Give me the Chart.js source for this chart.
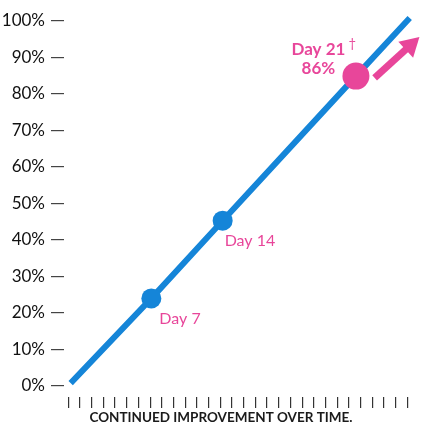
<!DOCTYPE html>
<html>
<head>
<meta charset="utf-8">
<script src="https://cdn.jsdelivr.net/npm/chart.js@4"></script>
<style>
  html, body { margin: 0; padding: 0; background: #fff; }
  #wrap { width: 426px; height: 426px; }
</style>
</head>
<body>
<div id="wrap"><canvas id="c" width="426" height="426"></canvas></div>
<script>
// ---- data ----
const xTicks = [0,1,2,3,4,5,6,7,8,9,10,11,12,13,14,15,16,17,18,19,20,21,22,23,24,25,26,27,28,29];
const yTicks = [0,10,20,30,40,50,60,70,80,90,100];
const lineX = [0.2, 7.1, 13.2, 24.6, 29.2];
const lineY = [0.8, 24.0, 45.3, 84.9, 100.8];
const pointLabels = ['', 'Day 7', 'Day 14', 'Day 21', ''];
const pointValueLabels = ['', '', '', '86%', ''];
const arrowX = [26.2, 29.25];
const arrowY = [84.4, 93.3];
const axisTitle = 'CONTINUED IMPROVEMENT OVER TIME.';

const BLUE = '#1585d8';
const PINK = '#e8469a';
const FONT = 'Lato, "Noto Sans", sans-serif';

const labelPlugin = {
  id: 'labels',
  afterDatasetsDraw(chart) {
    const ctx = chart.ctx;
    const meta = chart.getDatasetMeta(0);
    ctx.save();
    ctx.fillStyle = PINK;
    ctx.textBaseline = 'alphabetic';
    [1, 2].forEach((i, k) => {
      const p = meta.data[i];
      ctx.font = '400 16px ' + FONT;
      ctx.textAlign = 'left';
      const dx = k === 0 ? 8 : 2;
      ctx.fillText(pointLabels[i], p.x + dx, p.y + 25.5);
    });
    const p = meta.data[3];
    ctx.font = '700 17px ' + FONT;
    ctx.textAlign = 'center';
    const cx = p.x - 37.5;
    ctx.fillText(pointLabels[3], cx, p.y - 21);
    ctx.fillText(pointValueLabels[3], cx, p.y - 2);
    const w = ctx.measureText(pointLabels[3]).width;
    ctx.font = '400 13px ' + FONT;
    ctx.textAlign = 'left';
    ctx.fillText('\u2020', cx + w / 2 + 3, p.y - 28);
    ctx.fillStyle = '#1a1a1a';
    ctx.font = '700 13.5px ' + FONT;
    ctx.textAlign = 'center';
    ctx.fillText(axisTitle, 221, 421.5);
    ctx.restore();
  }
};

function zeroPad(s) { s.paddingTop = 0; s.paddingBottom = 0; s.paddingLeft = 0; s.paddingRight = 0; }

new Chart(document.getElementById('c'), {
  type: 'line',
  data: {
    datasets: [
      {
        data: lineX.map((x, i) => ({ x, y: lineY[i] })),
        borderColor: BLUE,
        borderWidth: 6,
        borderCapStyle: 'butt',
        pointRadius: [0, 10, 10, 13.5, 0],
        pointHoverRadius: [0, 10, 10, 13.5, 0],
        pointBorderWidth: 0,
        pointBackgroundColor: [BLUE, BLUE, BLUE, PINK, BLUE],
        pointBorderColor: [BLUE, BLUE, BLUE, PINK, BLUE],
        tension: 0,
        clip: false,
        order: 1
      },
      {
        data: arrowX.map((x, i) => ({ x, y: arrowY[i] })),
        borderColor: PINK,
        borderWidth: 7,
        borderCapStyle: 'butt',
        pointStyle: 'triangle',
        rotation: 47,
        pointRadius: [0, 12.5],
        pointHoverRadius: [0, 12.5],
        pointBorderWidth: 0,
        pointBackgroundColor: PINK,
        pointBorderColor: PINK,
        tension: 0,
        clip: false,
        order: 0
      }
    ]
  },
  options: {
    responsive: false,
    animation: false,
    events: [],
    layout: { autoPadding: false, padding: { top: 0, right: 6, bottom: 0, left: 0 } },
    plugins: { legend: { display: false }, tooltip: { enabled: false }, title: { display: false } },
    scales: {
      x: {
        type: 'linear',
        min: -0.37,
        max: 30.08,
        afterBuildTicks(s) { s.ticks = xTicks.map(v => ({ value: v })); },
        afterFit(s) { s.height = 29; zeroPad(s); },
        border: { display: false },
        grid: { drawOnChartArea: false, drawTicks: true, tickLength: 11, color: '#333', lineWidth: 1.2 },
        ticks: { callback: () => '', padding: 0 }
      },
      y: {
        type: 'linear',
        min: -3.01,
        max: 105.75,
        afterBuildTicks(s) { s.ticks = yTicks.map(v => ({ value: v })); },
        afterFit(s) { s.width = 64; zeroPad(s); },
        border: { display: false },
        grid: { drawOnChartArea: false, drawTicks: true, tickLength: 13, color: '#444', lineWidth: 1.2 },
        ticks: {
          callback: v => v + '%',
          color: '#111',
          padding: 6,
          font: { family: FONT, size: 17, weight: '400' }
        }
      }
    }
  },
  plugins: [labelPlugin]
});
</script>
</body>
</html>
